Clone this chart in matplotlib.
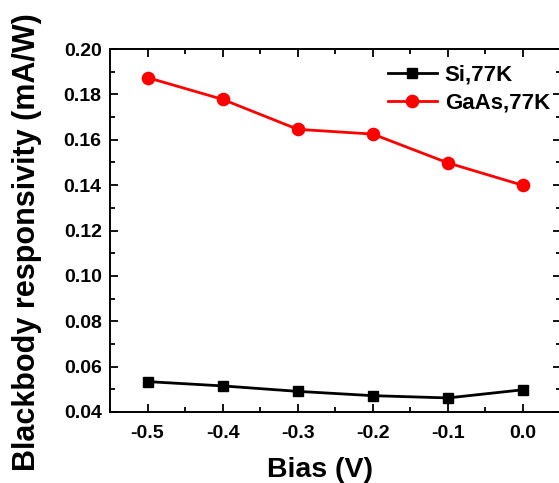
import matplotlib
matplotlib.use("Agg")
import matplotlib.pyplot as plt
from matplotlib.ticker import MultipleLocator

plt.rcParams['font.family'] = ['Liberation Sans', 'DejaVu Sans']
plt.rcParams['font.weight'] = 'bold'

bias = [-0.5, -0.4, -0.3, -0.2, -0.1, 0.0]
si_77k = [0.0534, 0.0515, 0.0491, 0.0472, 0.0462, 0.0498]
gaas_77k = [0.1874, 0.1778, 0.1646, 0.1625, 0.1498, 0.1399]

fig = plt.figure(figsize=(5.59, 4.83), dpi=100)
ax = fig.add_axes([110/559, 71/483, 450.5/559, 363/483])

ax.plot(bias, si_77k, color='black', lw=2.0, marker='s', ms=7.7, label='Si,77K')
ax.plot(bias, gaas_77k, color='red', lw=2.0, marker='o', ms=8.8, label='GaAs,77K')

ax.set_xlim(-0.55, 0.05)
ax.set_ylim(0.04, 0.20)
ax.xaxis.set_minor_locator(MultipleLocator(0.05))
ax.yaxis.set_major_locator(MultipleLocator(0.02))
ax.yaxis.set_minor_locator(MultipleLocator(0.01))
ax.set_xticks(bias)
ax.set_xticklabels(['-0.5', '-0.4', '-0.3', '-0.2', '-0.1', '0.0'])
ax.yaxis.set_major_formatter(plt.FormatStrFormatter('%.2f'))

ax.tick_params(which='both', direction='in', top=True, right=True, width=1.3, labelsize=14)
ax.tick_params(axis='x', which='major', length=6, pad=9)
ax.tick_params(axis='y', which='major', length=6, pad=6)
ax.tick_params(which='minor', length=3.5)
for s in ax.spines.values():
    s.set_linewidth(1.4)

ax.set_xlabel('Bias (V)', fontsize=20.5, fontweight='bold')
ax.set_ylabel('Blackbody responsivity (mA/W)', fontsize=22, fontweight='bold')
ax.xaxis.set_label_coords(0.466, -0.124)
ax.yaxis.set_label_coords(-0.151, 0.468)

ax.legend(loc='upper left', bbox_to_anchor=((388-110)/450.5, (412-65)/363),
          frameon=False, fontsize=16, handlelength=2.2, handletextpad=0.35,
          borderaxespad=0, borderpad=0, labelspacing=0.3)

fig.savefig('out.png', dpi=100)
